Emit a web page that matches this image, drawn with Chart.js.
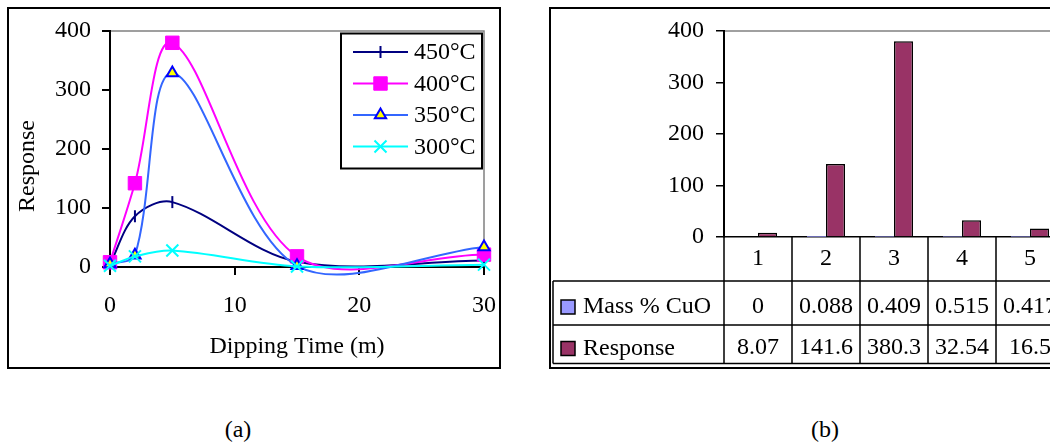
<!DOCTYPE html>
<html>
<head>
<meta charset="utf-8">
<script src="https://cdn.jsdelivr.net/npm/chart.js@4.4.1/dist/chart.umd.min.js"></script>
<style>
  html, body { margin: 0; padding: 0; background: #fff; overflow: hidden; width: 1050px; height: 443px; }
  #ca { position: absolute; left: 0; top: 0; }
  #cb { position: absolute; left: 530px; top: 0; }
  .cap { position: absolute; top: 416px; width: 80px; text-align: center; line-height: 24px;
         font: 24px "Liberation Serif", "Times New Roman", serif; color: #000; }
</style>
</head>
<body>
<canvas id="ca" width="530" height="380"></canvas>
<canvas id="cb" width="600" height="380"></canvas>
<div class="cap" style="left:198px">(a)</div>
<div class="cap" style="left:785px">(b)</div>
<script>
/* ---- data: (a) response vs dipping time ---- */
const times   = [0, 2, 5, 15, 30];
const resp450 = [5, 86, 110, 9, 11];
const resp400 = [8, 142, 380, 18, 21];
const resp350 = [5, 20, 329, 2, 34];
const resp300 = [2, 18, 28, 1, 4];
const seriesNames = ['450°C', '400°C', '350°C', '300°C'];

/* ---- data: (b) bar chart + data table ---- */
const samples  = ['1', '2', '3', '4', '5'];
const massCuO  = [0, 0.088, 0.409, 0.515, 0.417];
const response = [8.07, 141.6, 380.3, 32.54, 16.5];
const rowNames = ['Mass % CuO', 'Response'];

const SERIF = '"Liberation Serif", "Times New Roman", serif';
Chart.defaults.font.family = SERIF;
Chart.defaults.font.size = 24;
Chart.defaults.color = '#000';

// marker / line look of each series in (a)
const looks = [
  { line: '#000080', style: 'line',     rot: 90, r: 6,   fill: '#000080', edge: '#000080', bw: 2 },
  { line: '#FF00FF', style: 'rect',     rot: 0,  r: 9.5, fill: '#FF00FF', edge: '#FF00FF', bw: 1 },
  { line: '#3366FF', style: 'triangle', rot: 0,  r: 6.5, fill: '#FFFF00', edge: '#0000FF', bw: 2 },
  { line: '#00FFFF', style: 'crossRot', rot: 0,  r: 8.5, fill: '#00FFFF', edge: '#00FFFF', bw: 2 },
];
const allSeries = [resp450, resp400, resp350, resp300];

function pts(vals) { return times.map(function (t, i) { return { x: t, y: vals[i] }; }); }

function axisTicks(extra) {
  return Object.assign({
    display: true, drawOnChartArea: false, drawTicks: true,
    tickLength: 8, color: '#000', lineWidth: 2
  }, extra || {});
}

/* -------- (a) frame, gray plot border, legend, y title -------- */
const decoA = {
  id: 'decoA',
  beforeDatasetsDraw(chart) {
    const { ctx, chartArea: a } = chart;
    ctx.save();
    ctx.strokeStyle = '#808080';
    ctx.lineWidth = 1.5;
    ctx.beginPath();
    ctx.moveTo(a.left + 1, a.top);
    ctx.lineTo(a.right, a.top);
    ctx.lineTo(a.right, a.bottom - 1);
    ctx.stroke();
    ctx.restore();
  },
  afterDraw(chart) {
    const ctx = chart.ctx;
    ctx.save();
    // outer frame
    ctx.strokeStyle = '#000';
    ctx.lineWidth = 2;
    ctx.strokeRect(8, 8, 492, 360);

    // y title
    ctx.fillStyle = '#000';
    ctx.font = '24px ' + SERIF;
    ctx.textAlign = 'center';
    ctx.textBaseline = 'middle';
    ctx.save();
    ctx.translate(28, 166);
    ctx.rotate(-Math.PI / 2);
    ctx.fillText('Response', 0, 0);
    ctx.restore();

    // legend
    ctx.fillStyle = '#fff';
    ctx.fillRect(341, 33.5, 141, 135);
    ctx.strokeRect(341, 33.5, 141, 135);
    seriesNames.forEach(function (name, i) {
      const lk = looks[i];
      const y = 52 + i * 31.5;
      ctx.strokeStyle = lk.line;
      ctx.lineWidth = 2;
      ctx.beginPath(); ctx.moveTo(353, y); ctx.lineTo(408, y); ctx.stroke();
      ctx.fillStyle = lk.fill;
      ctx.strokeStyle = lk.edge;
      ctx.lineWidth = lk.bw;
      Chart.helpers.drawPoint(ctx, { pointStyle: lk.style, rotation: lk.rot, radius: lk.r, borderWidth: lk.bw }, 380.5, y);
      ctx.fillStyle = '#000';
      ctx.textAlign = 'left';
      ctx.fillText(name, 414, y + 1);
    });
    ctx.restore();
  }
};

new Chart(document.getElementById('ca'), {
  type: 'line',
  data: {
    datasets: allSeries.map(function (vals, i) {
      const lk = looks[i];
      return {
        label: seriesNames[i], data: pts(vals), order: 3 - i,
        borderColor: lk.line, borderWidth: 2, tension: 0.33, capBezierPoints: false, clip: false,
        pointStyle: lk.style, pointRotation: lk.rot, pointRadius: lk.r,
        pointBackgroundColor: lk.fill, pointBorderColor: lk.edge, pointBorderWidth: lk.bw
      };
    })
  },
  options: {
    responsive: false, animation: false, events: [],
    layout: { padding: { top: 31, right: 46, left: 0, bottom: 0 } },
    plugins: { legend: { display: false }, tooltip: { enabled: false } },
    scales: {
      x: {
        type: 'linear', min: 0, max: 30,
        ticks: { stepSize: 10, padding: 16 },
        grid: axisTicks(),
        border: { color: '#000', width: 2 },
        title: { display: true, text: 'Dipping Time (m)', padding: { top: 0, bottom: 19 } },
        afterFit: function (s) { s.height = 113; }
      },
      y: {
        min: 0, max: 400,
        ticks: { stepSize: 100, padding: 11 },
        grid: axisTicks(),
        border: { color: '#000', width: 2 },
        afterFit: function (s) { s.width = 110; }
      }
    }
  },
  plugins: [decoA]
});

/* -------- (b) frame + data table under the bars -------- */
const tableB = {
  id: 'tableB',
  beforeDatasetsDraw(chart) {
    const { ctx, chartArea: a } = chart;
    ctx.save();
    ctx.strokeStyle = '#808080';
    ctx.lineWidth = 1.5;
    ctx.beginPath(); ctx.moveTo(a.left + 1, a.top); ctx.lineTo(chart.width, a.top); ctx.stroke();
    ctx.restore();
  },
  afterDraw(chart) {
    const { ctx, chartArea: a, scales: { x } } = chart;
    const W = chart.width;
    const step = (a.right - a.left) / samples.length;
    const rowY = [281, 325, 363.5];
    ctx.save();
    ctx.strokeStyle = '#000';
    ctx.lineWidth = 2;
    ctx.beginPath();
    ctx.moveTo(W, 8); ctx.lineTo(20, 8); ctx.lineTo(20, 368); ctx.lineTo(W, 368);
    ctx.stroke();

    ctx.lineWidth = 1.5;
    ctx.beginPath();
    rowY.forEach(function (y) { ctx.moveTo(23, y); ctx.lineTo(W, y); });
    ctx.moveTo(23, 281); ctx.lineTo(23, 363.5);
    for (let i = 0; i <= samples.length; i++) {
      const px = x.getPixelForValue(i) - step / 2;
      ctx.moveTo(px, a.bottom); ctx.lineTo(px, 363.5);
    }
    ctx.stroke();

    ctx.fillStyle = '#000';
    ctx.font = '24px ' + SERIF;
    ctx.textAlign = 'center';
    ctx.textBaseline = 'middle';
    samples.forEach(function (s, i) {
      const cx = x.getPixelForValue(i);
      ctx.fillText(s, cx, 259);
      ctx.fillText(String(massCuO[i]), cx, 307);
      ctx.fillText(String(response[i]), cx, 348);
    });

    // row legends
    const keys = [{ c: '#9999FF', y: 307 }, { c: '#993366', y: 348.5 }];
    keys.forEach(function (k, i) {
      ctx.fillStyle = k.c;
      ctx.fillRect(31, k.y - 7, 14, 14);
      ctx.strokeRect(31, k.y - 7, 14, 14);
      ctx.fillStyle = '#000';
      ctx.textAlign = 'left';
      ctx.fillText(rowNames[i], 53, k.y);
    });
    ctx.restore();
  }
};

new Chart(document.getElementById('cb'), {
  type: 'bar',
  data: {
    labels: samples,
    datasets: [
      { label: rowNames[0], data: massCuO, backgroundColor: '#9999FF', borderWidth: 0,
        categoryPercentage: 0.56, barPercentage: 1 },
      { label: rowNames[1], data: response, backgroundColor: '#993366', borderColor: '#000', borderWidth: 1.5,
        categoryPercentage: 0.56, barPercentage: 1 }
    ]
  },
  options: {
    responsive: false, animation: false, events: [],
    layout: { padding: { top: 31, right: 66, left: 0, bottom: 0 } },
    plugins: { legend: { display: false }, tooltip: { enabled: false } },
    scales: {
      x: {
        type: 'category', offset: true,
        grid: { display: false },
        ticks: { display: false },
        border: { color: '#000', width: 1.5 },
        afterFit: function (s) { s.height = 143; }
      },
      y: {
        min: 0, max: 400,
        ticks: { stepSize: 100, padding: 12 },
        grid: axisTicks({ lineWidth: 1.5 }),
        border: { color: '#000', width: 2 },
        afterFit: function (s) { s.width = 194; }
      }
    }
  },
  plugins: [tableB]
});
</script>
</body>
</html>
